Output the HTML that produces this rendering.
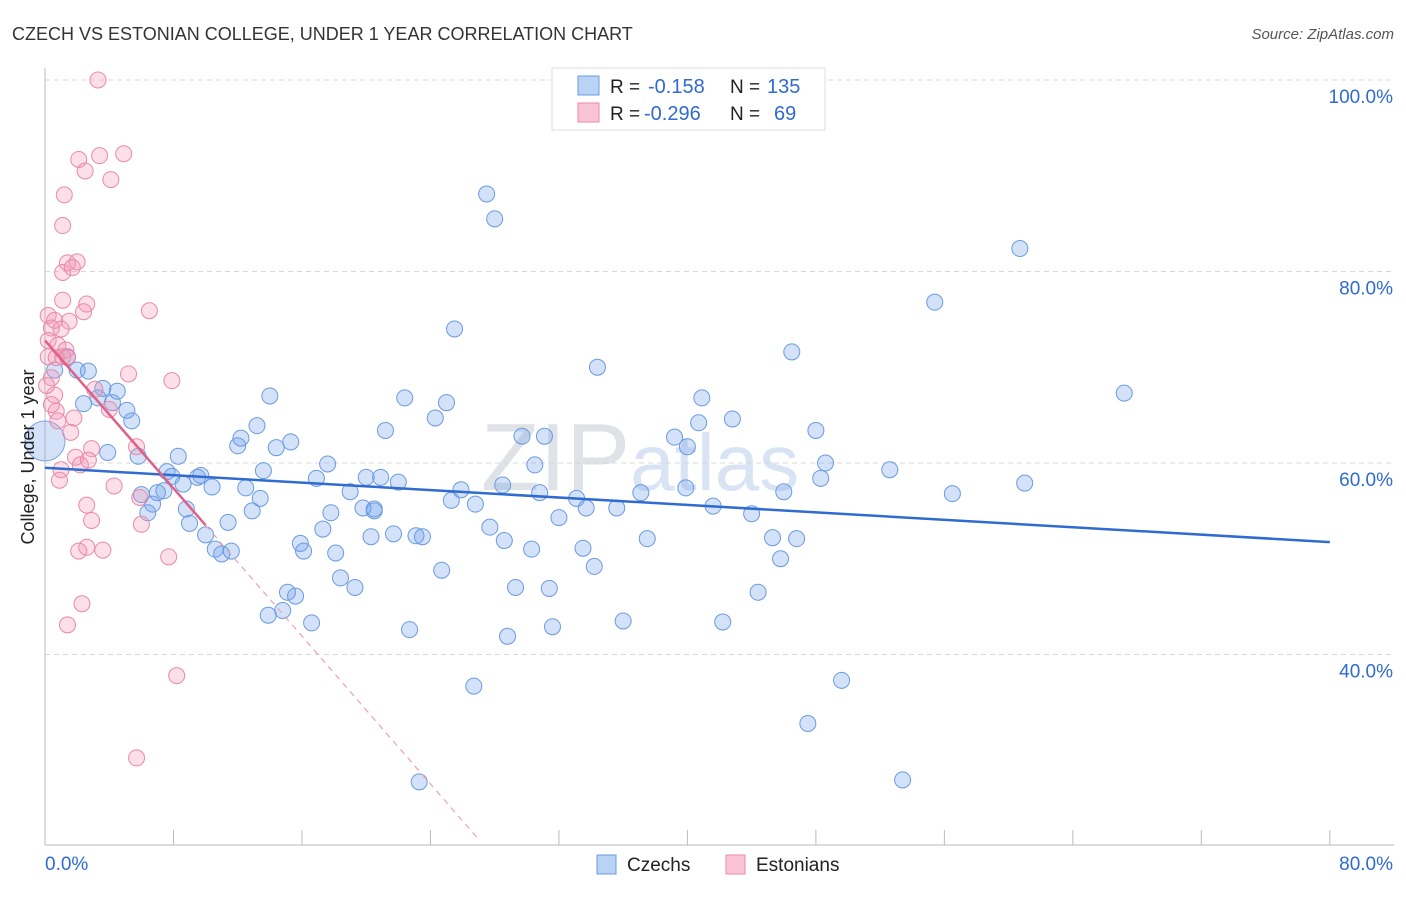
<!DOCTYPE html>
<html><head><meta charset="utf-8"><style>
body{margin:0;background:#fff;font-family:"Liberation Sans",sans-serif;}
svg text{font-family:"Liberation Sans",sans-serif;}
</style></head><body>
<svg id="chart" width="1406" height="892">
<text x="12" y="40" font-size="18" fill="#333">CZECH VS ESTONIAN COLLEGE, UNDER 1 YEAR CORRELATION CHART</text>
<text x="1394" y="39" font-size="15" fill="#555" text-anchor="end" font-style="italic">Source: ZipAtlas.com</text>
<text x="640" y="490" font-size="96" fill="#e8eaee" text-anchor="middle" font-family="Liberation Serif"><tspan fill="#dfe2e6">ZIP</tspan><tspan fill="#d8e4f4" font-family="Liberation Sans" font-size="80">atlas</tspan></text>
<g id="grid"></g>
<g id="axes"></g>
<g id="pts"></g>
<g id="trend"></g>
<text transform="translate(34,457) rotate(-90)" font-size="18" fill="#222" text-anchor="middle">College, Under 1 year</text>
<g>
<rect x="552" y="68" width="273" height="62" fill="#fff" stroke="#ddd"/>
<rect x="578" y="76" width="21" height="19" fill="#b9d3f5" stroke="#6a9be0"/>
<rect x="578" y="103" width="21" height="19" fill="#f9c5d5" stroke="#e88aa8"/>
<text x="610" y="93" font-size="19" fill="#222">R =</text><text x="648" y="93" font-size="20" fill="#2f6bd0">-0.158</text>
<text x="730" y="93" font-size="19" fill="#222">N =</text><text x="767" y="93" font-size="20" fill="#2f6bd0">135</text>
<text x="610" y="120" font-size="19" fill="#222">R =</text><text x="644" y="120" font-size="20" fill="#2f6bd0">-0.296</text>
<text x="730" y="120" font-size="19" fill="#222">N =</text><text x="774" y="120" font-size="20" fill="#2f6bd0">69</text>
</g>
<g>
<rect x="597" y="855" width="19" height="19" fill="#b9d3f5" stroke="#6a9be0"/>
<text x="627" y="871" font-size="19" fill="#222">Czechs</text>
<rect x="726" y="855" width="19" height="19" fill="#f9c5d5" stroke="#e88aa8"/>
<text x="756" y="871" font-size="19" fill="#222">Estonians</text>
</g>
</svg>
<script>
const yTicks=[40,60,80,100];
const xTickLabels=["0.0%","80.0%"];
const czX=[27.5,28.0,60.7,55.4,25.5,46.5,34.4,67.2,14.0,22.4,25.0,40.9,24.3,42.8,21.2,40.7,29.7,39.2,40.0,48.0,48.6,48.3,52.6,56.5,61.0,0.6,1.4,2.7,2.0,2.4,3.3,3.6,4.5,4.2,5.1,5.4,3.9,5.8,8.3,7.6,7.9,8.6,7.0,7.4,6.0,6.7,6.4,8.8,9.7,10.4,9.5,9.0,10.0,11.4,10.6,11.0,11.6,12.0,12.2,13.2,13.6,12.5,13.4,12.9,14.4,15.3,16.9,17.6,19.0,17.8,17.3,15.9,16.1,18.1,19.8,20.5,20.0,20.9,22.0,20.5,20.3,21.7,23.1,23.5,18.4,19.3,15.1,15.6,14.8,13.9,16.6,22.7,24.7,25.3,25.9,26.8,27.7,28.5,28.6,30.3,30.5,31.1,30.8,32.0,33.1,33.7,33.5,34.2,35.6,37.1,37.5,39.9,41.6,44.0,46.0,45.3,45.8,46.8,29.3,31.4,31.6,36.0,28.8,26.7,23.3,42.2,44.4,49.6,47.5,53.4];
const czY=[88.1,85.5,82.4,76.8,74.0,71.6,70.0,67.3,67.0,66.8,66.3,66.8,64.7,64.6,63.4,64.2,62.8,62.7,61.7,63.4,60.0,58.4,59.3,56.8,57.9,69.7,71.1,69.6,69.7,66.2,66.8,67.8,67.5,66.3,65.5,64.4,61.1,60.7,60.7,59.1,58.6,57.8,56.9,57.1,56.7,55.7,54.8,55.2,58.7,57.5,58.5,53.7,52.5,53.8,51.0,50.5,50.8,61.8,62.6,63.9,59.2,57.4,56.3,55.0,61.6,62.2,58.4,59.9,57.0,54.8,53.1,51.6,50.8,50.6,55.3,55.2,58.5,58.5,58.0,55.0,52.3,52.6,52.4,52.3,48.0,47.0,46.5,46.1,44.6,44.1,43.3,42.6,48.8,56.1,57.2,55.7,53.3,57.7,51.9,51.0,59.8,62.8,56.9,54.3,56.3,55.3,51.1,49.2,55.3,56.9,52.1,57.4,55.5,54.7,57.0,52.2,50.0,52.1,47.0,46.9,42.9,43.5,41.9,36.7,26.7,43.4,46.5,37.3,32.8,26.9];
const esX=[3.3,2.1,3.4,4.9,2.5,4.1,1.2,1.1,1.4,2.0,1.1,1.7,1.1,2.6,2.4,6.5,0.2,0.6,1.5,0.4,1.0,0.2,0.8,1.3,0.2,1.1,0.7,1.4,7.9,5.2,3.1,0.4,0.6,0.1,4.0,0.7,0.4,1.8,0.8,1.6,2.9,5.7,1.9,2.7,2.2,1.0,0.9,4.3,5.9,2.6,2.9,6.0,2.6,2.1,3.6,7.7,2.3,1.4,8.2,5.7];
const esY=[100,91.7,92.1,92.3,90.5,89.6,88.0,84.8,80.9,81.0,79.9,80.4,77.0,76.6,75.8,75.9,75.4,74.9,74.8,74.1,74.0,72.8,72.3,71.8,71.1,71.1,71.0,71.0,68.6,69.3,67.7,68.9,67.1,68.1,65.6,65.4,66.1,64.7,64.4,63.2,61.5,61.7,60.6,60.3,59.8,59.3,58.2,57.6,56.4,55.6,54.0,53.6,51.2,50.8,50.9,50.2,45.3,43.1,37.8,29.2];
const czTrend=[59.5,-0.097];
const esTrend=[72.8,-1.93];
const NS="http://www.w3.org/2000/svg";
function X(v){return 45+v*16.06;}
function Y(v){return 80+(100-v)*9.575;}
function mk(tag,attrs,parent){const e=document.createElementNS(NS,tag);for(const k in attrs)e.setAttribute(k,attrs[k]);parent.appendChild(e);return e;}
const grid=document.getElementById('grid'),axes=document.getElementById('axes'),pts=document.getElementById('pts'),tr=document.getElementById('trend');
yTicks.forEach(t=>{
 const l=mk('line',{x1:45,x2:1394,y1:Y(t),y2:Y(t),stroke:'#d8d8d8','stroke-dasharray':'5,4'},grid);
 
 
 const tx=mk('text',{x:1393,y:Y(t)+23,'font-size':19,fill:'#2f6bd0','text-anchor':'end'},grid);
 tx.textContent=t.toFixed(1)+'%';
 
 
});
const ax=mk('line',{x1:45,x2:1394,y1:845,y2:845,stroke:'#bbb'},axes);


const ay=mk('line',{x1:45,x2:45,y1:68,y2:845,stroke:'#bbb'},axes);


for(let i=0;i<=10;i++){const t=mk('line',{x1:X(i*8),x2:X(i*8),y1:830,y2:845,stroke:'#bbb'},axes);
 
 }
const l0=mk('text',{x:45,y:870,'font-size':19,fill:'#2f6bd0'},axes);l0.textContent=xTickLabels[0];


const l1=mk('text',{x:1393,y:870,'font-size':19,fill:'#2f6bd0','text-anchor':'end'},axes);l1.textContent=xTickLabels[1];


const big=mk('circle',{cx:X(0),cy:Y(62.3),r:20,fill:'rgba(110,160,235,0.3)',stroke:'#7aa6e6'},pts);


czX.forEach((v,i)=>{const c=mk('circle',{cx:X(v),cy:Y(czY[i]),r:8,fill:'rgba(110,160,235,0.3)',stroke:'#6a9be0','stroke-width':1},pts);
 
 });
esX.forEach((v,i)=>{const c=mk('circle',{cx:X(v),cy:Y(esY[i]),r:8,fill:'rgba(245,150,180,0.3)',stroke:'#e88aa8','stroke-width':1},pts);
 
 });
const bt=mk('line',{x1:X(0),y1:Y(czTrend[0]),x2:X(80),y2:Y(czTrend[0]+czTrend[1]*80),stroke:'#2f6bd0','stroke-width':2.5},tr);


const pt=mk('line',{x1:X(0),y1:Y(esTrend[0]),x2:X(10),y2:Y(esTrend[0]+esTrend[1]*10),stroke:'#e0608a','stroke-width':2.5},tr);


const pd=mk('line',{x1:X(10),y1:Y(esTrend[0]+esTrend[1]*10),x2:X(27),y2:Y(esTrend[0]+esTrend[1]*27),stroke:'#e8a0b8','stroke-width':1.2,'stroke-dasharray':'6,5'},tr);


</script>
</body></html>
